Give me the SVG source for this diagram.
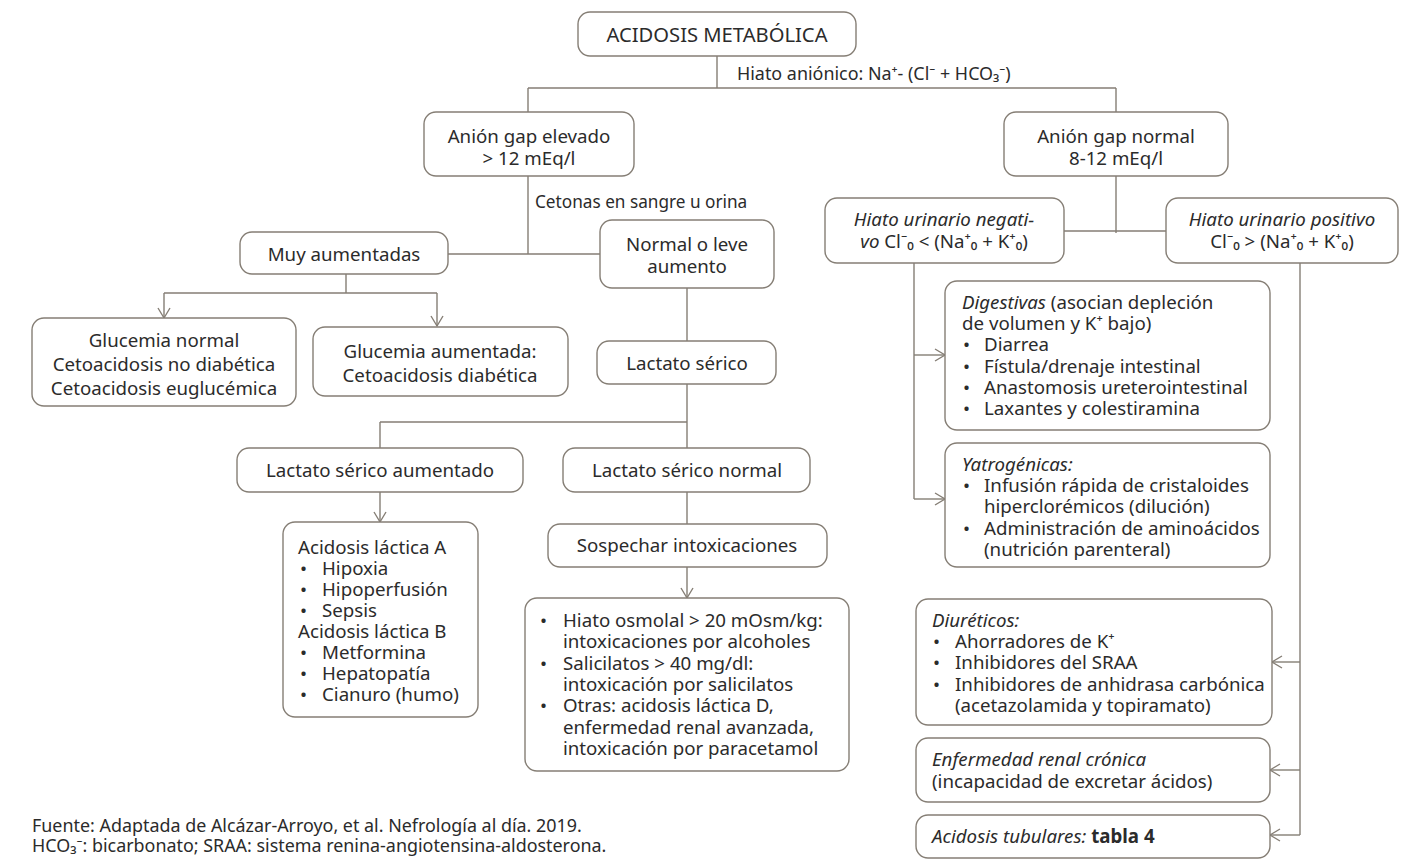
<svg xmlns="http://www.w3.org/2000/svg" width="1422" height="868" viewBox="0 0 1422 868">
<defs>
<style>
.box{fill:#ffffff;stroke:#857e75;stroke-width:1.4}
.ln{fill:none;stroke:#857e75;stroke-width:1.4}
.ar{fill:none;stroke:#857e75;stroke-width:1.4;marker-end:url(#arr)}
text{font-family:"Noto Sans","DejaVu Sans","Liberation Sans",sans-serif;font-size:18.7px;fill:#2b2b2b}
.c{text-anchor:middle}
.sm{font-size:17.9px}
.it{font-style:italic}
</style>
<marker id="arr" markerUnits="userSpaceOnUse" markerWidth="14" markerHeight="14" refX="11" refY="7" orient="auto">
<path d="M1,1 L11,7 L1,13" fill="none" stroke="#857e75" stroke-width="1.4"/>
</marker>
</defs>
<rect width="1422" height="868" fill="#ffffff"/>

<g id="connectors">
<path class="ln" d="M717,56 V88 M528,88 H1116 M528,88 V112 M1116,88 V112"/>
<path class="ln" d="M528,176 V254 M448,254 H600"/>
<path class="ln" d="M346,274 V293 M164,293 H437"/>
<path class="ar" d="M164,293 V318"/>
<path class="ar" d="M437,293 V326"/>
<path class="ln" d="M687,288 V341 M687,384 V448 M380,422 H687 M380,422 V448"/>
<path class="ar" d="M380,492 V522"/>
<path class="ln" d="M687,492 V524"/>
<path class="ar" d="M687,567 V598"/>
<path class="ln" d="M1116,176 V233 M1064,231 H1166"/>
<path class="ln" d="M914,263 V499"/>
<path class="ar" d="M914,355 H945"/>
<path class="ar" d="M914,499 H945"/>
<path class="ln" d="M1300,263 V835"/>
<path class="ar" d="M1300,662 H1272"/>
<path class="ar" d="M1300,770 H1270"/>
<path class="ar" d="M1300,835 H1270"/>
</g>

<g id="hiato-anionico-label">
<text x="737" y="80" class="sm">Hiato aniónico: Na⁺- (Cl⁻ + HCO₃⁻)</text>
</g>

<g id="n-acidosis">
<rect class="box" x="578" y="12" width="278" height="44" rx="12"/>
<text x="717" y="42" class="c" style="font-size:20.2px">ACIDOSIS METABÓLICA</text>
</g>

<g id="n-ag-elevado">
<rect class="box" x="424" y="112" width="210" height="64" rx="12"/>
<text x="529" y="143" class="c">Anión gap elevado<tspan x="529" dy="22">&gt; 12 mEq/l</tspan></text>
</g>

<g id="cetonas-label">
<text x="535" y="208" style="font-size:17.2px">Cetonas en sangre u orina</text>
</g>

<g id="n-ag-normal">
<rect class="box" x="1004" y="112" width="224" height="64" rx="12"/>
<text x="1116" y="143" class="c">Anión gap normal<tspan x="1116" dy="22">8-12 mEq/l</tspan></text>
</g>

<g id="n-muy-aumentadas">
<rect class="box" x="240" y="232" width="208" height="42" rx="12"/>
<text x="344" y="261" class="c">Muy aumentadas</text>
</g>

<g id="n-normal-leve">
<rect class="box" x="600" y="220" width="174" height="68" rx="12"/>
<text x="687" y="251" class="c">Normal o leve<tspan x="687" dy="22">aumento</tspan></text>
</g>

<g id="n-glucemia-normal">
<rect class="box" x="32" y="318" width="264" height="88" rx="12"/>
<text x="164" y="347" class="c">Glucemia normal<tspan x="164" dy="24">Cetoacidosis no diabética</tspan><tspan x="164" dy="24">Cetoacidosis euglucémica</tspan></text>
</g>

<g id="n-glucemia-aumentada">
<rect class="box" x="313" y="327" width="255" height="69" rx="12"/>
<text x="440" y="358" class="c">Glucemia aumentada:<tspan x="440" dy="24">Cetoacidosis diabética</tspan></text>
</g>

<g id="n-lactato">
<rect class="box" x="597" y="341" width="179" height="43" rx="12"/>
<text x="687" y="370" class="c">Lactato sérico</text>
</g>

<g id="n-lactato-aumentado">
<rect class="box" x="237" y="448" width="286" height="44" rx="12"/>
<text x="380" y="477" class="c">Lactato sérico aumentado</text>
</g>

<g id="n-lactato-normal">
<rect class="box" x="563" y="448" width="247" height="44" rx="12"/>
<text x="687" y="477" class="c">Lactato sérico normal</text>
</g>

<g id="n-acidosis-lactica">
<rect class="box" x="283" y="522" width="195" height="195" rx="12"/>
<text x="298" y="554">Acidosis láctica A<tspan x="300" dy="21">•</tspan><tspan x="322">Hipoxia</tspan><tspan x="300" dy="21">•</tspan><tspan x="322">Hipoperfusión</tspan><tspan x="300" dy="21">•</tspan><tspan x="322">Sepsis</tspan><tspan x="298" dy="21">Acidosis láctica B</tspan><tspan x="300" dy="21">•</tspan><tspan x="322">Metformina</tspan><tspan x="300" dy="21">•</tspan><tspan x="322">Hepatopatía</tspan><tspan x="300" dy="21">•</tspan><tspan x="322">Cianuro (humo)</tspan></text>
</g>

<g id="n-sospechar">
<rect class="box" x="548" y="524" width="279" height="43" rx="12"/>
<text x="687" y="552" class="c">Sospechar intoxicaciones</text>
</g>

<g id="n-intoxicaciones">
<rect class="box" x="525" y="598" width="324" height="173" rx="12"/>
<text x="540" y="627">•<tspan x="563">Hiato osmolal &gt; 20 mOsm/kg:</tspan><tspan x="563" dy="21.3">intoxicaciones por alcoholes</tspan><tspan x="540" dy="21.3">•</tspan><tspan x="563">Salicilatos &gt; 40 mg/dl:</tspan><tspan x="563" dy="21.3">intoxicación por salicilatos</tspan><tspan x="540" dy="21.3">•</tspan><tspan x="563">Otras: acidosis láctica D,</tspan><tspan x="563" dy="21.3">enfermedad renal avanzada,</tspan><tspan x="563" dy="21.3">intoxicación por paracetamol</tspan></text>
</g>

<g id="n-hiato-negativo">
<rect class="box" x="825" y="198" width="239" height="65" rx="12"/>
<text x="944" y="226" class="c"><tspan class="it">Hiato urinario negati-</tspan><tspan x="944" dy="22"><tspan class="it">vo</tspan> Cl⁻₀ &lt; (Na⁺₀ + K⁺₀)</tspan></text>
</g>

<g id="n-hiato-positivo">
<rect class="box" x="1166" y="198" width="232" height="65" rx="12"/>
<text x="1282" y="226" class="c"><tspan class="it">Hiato urinario positivo</tspan><tspan x="1282" dy="22">Cl⁻₀ &gt; (Na⁺₀ + K⁺₀)</tspan></text>
</g>

<g id="n-digestivas">
<rect class="box" x="945" y="281" width="325" height="149" rx="12"/>
<text x="962" y="309"><tspan class="it">Digestivas</tspan> (asocian depleción<tspan x="962" dy="21.2">de volumen y K⁺ bajo)</tspan><tspan x="963" dy="21.2">•</tspan><tspan x="984">Diarrea</tspan><tspan x="963" dy="21.2">•</tspan><tspan x="984">Fístula/drenaje intestinal</tspan><tspan x="963" dy="21.2">•</tspan><tspan x="984">Anastomosis ureterointestinal</tspan><tspan x="963" dy="21.2">•</tspan><tspan x="984">Laxantes y colestiramina</tspan></text>
</g>

<g id="n-yatrogenicas">
<rect class="box" x="945" y="443" width="325" height="124" rx="12"/>
<text x="962" y="471"><tspan class="it">Yatrogénicas:</tspan><tspan x="963" dy="21.2">•</tspan><tspan x="984">Infusión rápida de cristaloides</tspan><tspan x="984" dy="21.2">hiperclorémicos (dilución)</tspan><tspan x="963" dy="21.2">•</tspan><tspan x="984">Administración de aminoácidos</tspan><tspan x="984" dy="21.2">(nutrición parenteral)</tspan></text>
</g>

<g id="n-diureticos">
<rect class="box" x="916" y="599" width="356" height="126" rx="12"/>
<text x="932" y="627"><tspan class="it">Diuréticos:</tspan><tspan x="933" dy="21.2">•</tspan><tspan x="955">Ahorradores de K⁺</tspan><tspan x="933" dy="21.2">•</tspan><tspan x="955">Inhibidores del SRAA</tspan><tspan x="933" dy="21.2">•</tspan><tspan x="955">Inhibidores de anhidrasa carbónica</tspan><tspan x="955" dy="21.2">(acetazolamida y topiramato)</tspan></text>
</g>

<g id="n-erc">
<rect class="box" x="916" y="738" width="354" height="64" rx="12"/>
<text x="932" y="766"><tspan class="it">Enfermedad renal crónica</tspan><tspan x="932" dy="22">(incapacidad de excretar ácidos)</tspan></text>
</g>

<g id="n-tubulares">
<rect class="box" x="916" y="815" width="354" height="43" rx="12"/>
<text x="932" y="843"><tspan class="it">Acidosis tubulares:</tspan> <tspan font-weight="bold">tabla 4</tspan></text>
</g>

<g id="footer">
<text x="32" y="832" class="sm">Fuente: Adaptada de Alcázar-Arroyo, et al. Nefrología al día. 2019.<tspan x="32" dy="20">HCO₃⁻: bicarbonato; SRAA: sistema renina-angiotensina-aldosterona.</tspan></text>
</g>
</svg>
